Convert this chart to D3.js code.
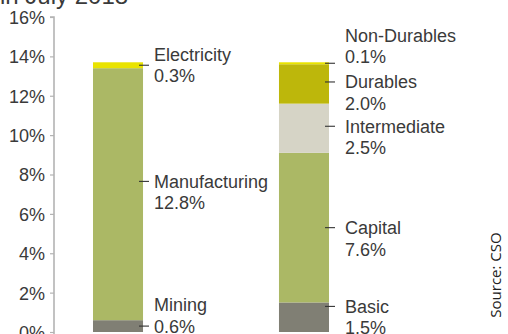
<!DOCTYPE html>
<html><head><meta charset="utf-8">
<script src="https://cdn.jsdelivr.net/npm/d3@7"></script>
<style>html,body{margin:0;padding:0;background:#fff;overflow:hidden}</style>
</head><body>
<script>
// ---- data ----
const titleText = "in July 2018";
const sourceText = "Source: CSO";
const yTicks = [0, 2, 4, 6, 8, 10, 12, 14, 16];
const sectorNames = ["Mining", "Manufacturing", "Electricity"];
const sectorValues = [0.6, 12.8, 0.3];
const useNames = ["Basic", "Capital", "Intermediate", "Durables", "Non-Durables"];
const useValues = [1.5, 7.6, 2.5, 2.0, 0.1];

// ---- styles / layout ----
const W = 508, H = 334;
const sectorColors = ["#807f74", "#abb865", "#e9e300"];
const useColors = ["#807f74", "#abb865", "#d6d4c6", "#bdb70b", "#e9e300"];
const sectorLabelAt = [0.3, 7.65, 13.55];
const sectorLineShift = [-1, 0, -0.5];
const useLabelAt = [1.3, 5.3, 10.45, 12.7, 13.65];
const useLineShift = [0, 0, 0, 0, -1.3];

const svg = d3.select("body").append("svg").attr("width", W).attr("height", H);
const y = d3.scaleLinear().domain([0, 16]).range([332, 17]);
const x = d3.scaleBand().domain(["sector", "use"]).range([46.5, 375.5]).paddingInner(0.731).paddingOuter(0.25);
const font = "'Liberation Sans', Arial, Helvetica, sans-serif";
const txt = "#3a3a3a";

// title (cropped at top)
svg.append("text").attr("x", 0).attr("y", 4).attr("font-family", font).attr("font-size", 24)
  .attr("fill", txt).text(titleText);

// y axis
const axis = d3.axisLeft(y).tickValues(yTicks).tickFormat(d => d + "%").tickSize(4).tickPadding(5);
const ag = svg.append("g").attr("transform", "translate(54,0)").call(axis);
ag.select(".domain").attr("stroke", "#b3b3b3").attr("stroke-width", 1.6)
  .attr("d", `M-4,${y(16)}H0V${H + 10}`);
ag.selectAll(".tick line").attr("stroke", "#b3b3b3").attr("stroke-width", 1.2);
ag.selectAll(".tick text").attr("font-family", font).attr("font-size", 18).attr("fill", txt)
  .attr("dy", "0.36em");

function stackBar(key, names, values, colors, labelAt, shift, textGap) {
  let cum = 0;
  const segs = values.map((v, i) => { const s = { name: names[i], v, y0: cum, y1: cum + v, i }; cum += v; return s; });
  const bx = x(key), bw = x.bandwidth();
  const g = svg.append("g");
  g.selectAll("rect").data(segs).join("rect")
    .attr("x", bx).attr("width", bw)
    .attr("y", d => y(d.y1)).attr("height", d => y(d.y0) - y(d.y1))
    .attr("fill", d => colors[d.i]);
  const lg = g.selectAll("g.lab").data(segs).join("g").attr("class", "lab");
  lg.append("line")
    .attr("x1", bx + bw - 4).attr("x2", bx + bw + 6)
    .attr("y1", d => y(labelAt[d.i])).attr("y2", d => y(labelAt[d.i]))
    .attr("stroke", "#333").attr("stroke-width", 1.1);
  const t = lg.append("text").attr("font-family", font).attr("font-size", 18).attr("fill", txt);
  t.append("tspan").attr("x", bx + bw + textGap)
    .attr("y", d => y(labelAt[d.i]) + shift[d.i] * 21.5).attr("dy", "0.36em").text(d => d.name);
  t.append("tspan").attr("x", bx + bw + textGap)
    .attr("y", d => y(labelAt[d.i]) + (shift[d.i] + 1) * 21.5).attr("dy", "0.36em")
    .text(d => d.v.toFixed(1) + "%");
}
stackBar("sector", sectorNames, sectorValues, sectorColors, sectorLabelAt, sectorLineShift, 11);
stackBar("use", useNames, useValues, useColors, useLabelAt, useLineShift, 16);

// source
svg.append("text").attr("transform", "translate(501,275) rotate(-90)")
  .attr("text-anchor", "middle").attr("font-family", "'Open Sans', sans-serif").attr("font-size", 15)
  .attr("fill", "#222").text(sourceText);
</script>
</body></html>
